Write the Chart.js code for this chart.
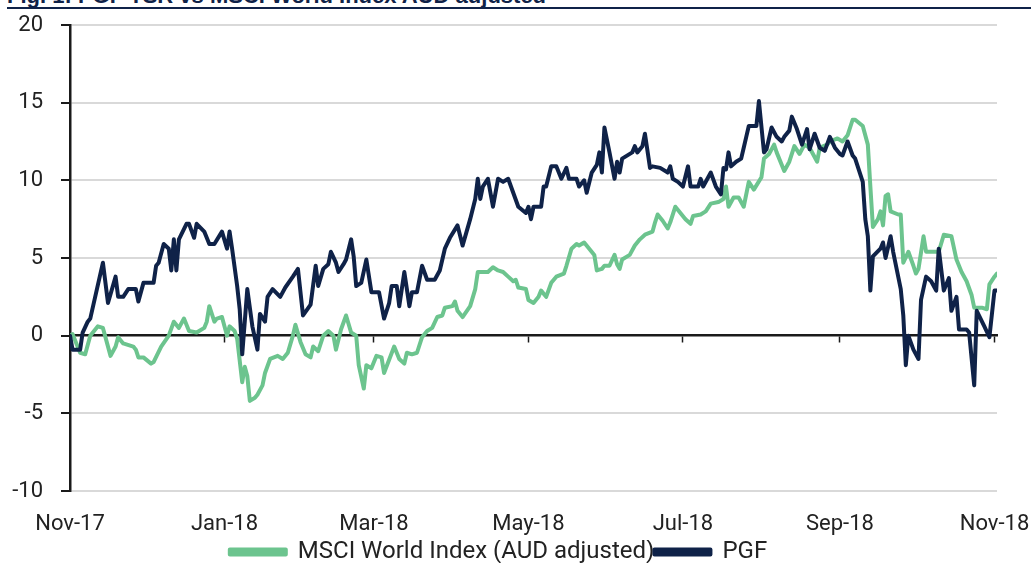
<!DOCTYPE html>
<html>
<head>
<meta charset="utf-8">
<script src="https://cdn.jsdelivr.net/npm/chart.js@4/dist/chart.umd.min.js"></script>
<style>
  html, body { margin: 0; padding: 0; background: #fff; }
  body { width: 1031px; height: 563px; position: relative; overflow: hidden; }
  #title { position: absolute; left: 7px; top: -16px; font: bold 22px "Liberation Sans", Arial, sans-serif; color: #0f2248; white-space: nowrap; line-height: 23px; }
  #rule { position: absolute; left: 7px; right: 0; top: 7px; height: 2px; background: #0f2248; }
  #wrap { position: absolute; left: 0; top: 0; width: 1031px; height: 563px; }
</style>
</head>
<body>
<div id="title">Fig. 1: PGF TSR vs MSCI World Index AUD adjusted</div>
<div id="rule"></div>
<div id="wrap"><canvas id="chart"></canvas></div>
<script>
"use strict";

// days counted from 1 Nov 2017
const tickDays = [0, 61, 120, 181, 242, 304, 365];
const tickLabels = ["Nov-17", "Jan-18", "Mar-18", "May-18", "Jul-18", "Sep-18", "Nov-18"];

const pgfDays = [
  0, 1, 4, 5, 7, 8, 13, 15, 18, 19,
  21, 23, 26, 27, 29, 33, 34, 35, 37, 39,
  40, 41, 42, 43, 46, 47, 49, 50, 53, 55,
  57, 60, 62, 63, 64, 66, 67, 68, 70, 72,
  74, 75, 77, 78, 80, 83, 85, 88, 90, 92,
  95, 97, 98, 100, 102, 103, 105, 106, 108, 109,
  111, 112, 113, 115, 117, 119, 122, 124, 126, 127,
  129, 130, 132, 134, 135, 137, 139, 141, 144, 146,
  148, 150, 153, 155, 158, 160, 161, 162, 163, 165,
  167, 169, 171, 173, 175, 177, 180, 181, 182, 183,
  186, 187, 188, 190, 192, 194, 196, 197, 200, 201,
  203, 204, 206, 208, 209, 210, 211, 213, 215, 216,
  217, 218, 222, 223, 224, 226, 227, 229, 230, 233,
  236, 237, 238, 240, 242, 244, 245, 248, 249, 250,
  253, 255, 257, 258, 259, 260, 261, 263, 265, 266,
  267, 268, 271, 272, 274, 275, 277, 279, 281, 282,
  284, 285, 287, 289, 291, 292, 294, 296, 298, 300,
  302, 304, 305, 307, 309, 310, 313, 314, 315, 316,
  317, 320, 321, 322, 324, 325, 328, 329, 330, 331,
  333, 335, 336, 338, 340, 342, 343, 345, 347, 348,
  350, 351, 354, 355, 357, 358, 361, 363, 365, 366
];
const pgfValues = [
  0.0, -0.9, -0.9, 0.2, 0.9, 1.1, 4.7, 2.1, 3.8, 2.5,
  2.5, 3.0, 3.0, 2.2, 3.4, 3.4, 4.5, 4.7, 5.9, 5.6,
  4.2, 6.2, 4.2, 6.2, 7.2, 7.2, 6.3, 7.2, 6.7, 5.9,
  5.9, 6.7, 5.6, 6.7, 5.6, 3.2, 1.7, -1.2, 3.0, 0.6,
  -0.9, 1.4, 0.9, 2.5, 3.0, 2.5, 3.1, 3.8, 4.3, 1.3,
  2.0, 4.5, 3.2, 4.3, 4.6, 5.4, 4.7, 4.1, 4.6, 4.9,
  6.2, 5.1, 3.2, 3.4, 4.9, 2.8, 2.8, 1.1, 2.1, 3.2,
  3.2, 1.9, 4.1, 1.9, 2.8, 2.8, 4.5, 3.6, 3.6, 4.2,
  5.6, 6.3, 7.1, 5.8, 7.5, 8.8, 10.1, 8.8, 9.6, 10.1,
  8.3, 10.1, 9.9, 10.1, 9.2, 8.3, 7.9, 8.3, 7.5, 8.3,
  8.3, 9.6, 9.6, 10.9, 10.9, 10.1, 10.8, 10.1, 10.1, 9.6,
  10.0, 9.2, 10.5, 11.0, 11.8, 10.5, 13.4, 11.8, 10.1, 11.2,
  10.5, 11.4, 11.8, 12.2, 11.8, 12.2, 13.0, 10.8, 10.9, 10.8,
  10.5, 10.9, 10.1, 9.9, 9.6, 10.9, 9.6, 9.6, 10.1, 9.6,
  10.5, 9.6, 9.1, 10.8, 10.7, 11.8, 10.9, 11.2, 11.4, 12.1,
  12.8, 13.5, 13.5, 15.1, 11.8, 12.0, 13.4, 12.8, 12.5, 12.8,
  13.2, 14.1, 13.3, 12.3, 13.3, 12.0, 13.0, 12.1, 11.9, 12.8,
  12.1, 11.7, 11.6, 12.5, 11.6, 11.4, 9.9, 7.5, 6.4, 2.9,
  5.1, 5.6, 6.0, 5.0, 6.4, 5.4, 3.0, 1.3, -1.9, 0.0,
  -0.9, -1.5, 2.3, 3.8, 3.5, 2.9, 5.6, 2.9, 3.7, 1.6,
  2.5, 0.4, 0.4, 0.2, -3.2, 1.6, 0.6, -0.1, 2.9, 2.9
];

const msciDays = [
  0, 1, 4, 6, 8, 11, 13, 16, 18, 19,
  21, 25, 26, 27, 29, 32, 33, 36, 39, 41,
  43, 45, 47, 50, 53, 54, 55, 57, 58, 60,
  62, 63, 65, 66, 68, 69, 70, 71, 73, 74,
  76, 77, 79, 82, 84, 86, 88, 89, 91, 93,
  95, 96, 98, 100, 102, 104, 105, 107, 109, 111,
  113, 114, 116, 117, 119, 121, 123, 124, 128, 130,
  132, 133, 135, 137, 139, 141, 143, 145, 147, 148,
  151, 152, 153, 155, 158, 160, 161, 165, 167, 169,
  171, 173, 175, 176, 177, 180, 181, 183, 185, 186,
  188, 190, 192, 195, 196, 198, 200, 201, 203, 205,
  207, 208, 210, 211, 213, 215, 216, 217, 218, 221,
  223, 225, 227, 230, 231, 232, 234, 236, 237, 239,
  241, 243, 245, 246, 249, 251, 253, 256, 258, 259,
  260, 262, 264, 266, 268, 270, 273, 274, 276, 278,
  279, 282, 284, 286, 288, 290, 292, 295, 296, 299,
  300, 303, 305, 307, 309, 310, 313, 315, 316, 317,
  319, 320, 321, 322, 323, 324, 327, 328, 329, 331,
  333, 334, 335, 337, 338, 343, 345, 348, 350, 352,
  354, 356, 357, 360, 362, 363, 365, 366
];
const msciValues = [
  0.0, 0.1, -1.1, -1.2, 0.0, 0.6, 0.5, -1.3, -0.7, -0.1,
  -0.5, -0.7, -0.9, -1.4, -1.4, -1.8, -1.7, -0.7, 0.0, 0.9,
  0.5, 1.1, 0.3, 0.2, 0.5, 0.9, 1.9, 0.9, 1.1, 1.2,
  0.0, 0.6, 0.3, -0.2, -3.0, -2.0, -2.6, -4.2, -4.0, -3.8,
  -3.2, -2.4, -1.5, -1.3, -1.5, -1.1, 0.0, 0.7, -0.4, -1.2,
  -1.4, -0.7, -1.0, 0.0, 0.3, 0.0, -0.9, 0.4, 1.3, 0.2,
  0.0, -1.9, -3.4, -1.9, -2.1, -1.3, -1.4, -2.4, -0.7, -1.5,
  -1.8, -1.1, -1.2, -1.1, -0.1, 0.3, 0.5, 1.2, 1.3, 1.8,
  1.9, 2.2, 1.6, 1.2, 1.9, 3.0, 4.1, 4.1, 4.4, 4.2,
  4.1, 3.8, 3.5, 3.6, 3.1, 3.0, 2.3, 2.1, 2.5, 2.9,
  2.5, 3.4, 3.8, 4.0, 4.5, 5.6, 5.9, 5.8, 6.0, 5.6,
  5.2, 4.2, 4.3, 4.5, 4.5, 5.2, 4.6, 4.3, 4.9, 5.2,
  5.8, 6.2, 6.5, 6.7, 7.3, 7.8, 7.4, 6.9, 7.3, 8.3,
  7.9, 7.5, 7.2, 7.7, 7.8, 8.0, 8.5, 8.6, 8.8, 9.6,
  8.3, 8.9, 8.9, 8.3, 9.9, 9.4, 10.2, 11.4, 11.7, 12.3,
  11.8, 10.6, 11.2, 12.2, 11.7, 12.3, 12.1, 11.2, 12.1, 12.3,
  12.5, 12.7, 12.5, 12.9, 13.9, 13.9, 13.5, 12.3, 9.6, 7.0,
  7.5, 8.0, 7.1, 9.0, 9.1, 8.0, 7.8, 7.8, 4.7, 5.4,
  4.5, 4.0, 4.3, 6.4, 5.4, 5.4, 6.5, 6.4, 4.9, 4.1,
  3.5, 2.6, 1.8, 1.8, 1.7, 3.3, 3.8, 4.0
];

const navy = "#0f2248";
const green = "#6cc48e";
const textColor = "#222222";

Chart.defaults.font.family = "Roboto, 'Noto Sans', sans-serif";
Chart.defaults.font.size = 22;
Chart.defaults.color = textColor;

function toPoints(days, values) {
  return days.map((d, i) => ({ x: d, y: values[i] }));
}

function setMonthTicks(axis) {
  axis.ticks = tickDays.map(v => ({ value: v }));
}

// keep the plot edges fixed, labels may hang over them
function noSidePadding(scale) {
  scale.paddingLeft = 0;
  scale.paddingRight = 0;
}

// the legend only needs one short row
const legendHeight = {
  id: "legendHeight",
  afterInit(chart) {
    const fit = chart.legend.fit;
    chart.legend.fit = function () {
      fit.call(this);
      this.height = 23;
    };
  }
};

const ctx = document.getElementById("chart").getContext("2d");
const chart = new Chart(ctx, {
  type: "line",
  data: {
    datasets: [
      {
        label: "MSCI World Index (AUD adjusted)",
        data: toPoints(msciDays, msciValues),
        borderColor: green,
        backgroundColor: green,
        borderWidth: 4,
        order: 1
      },
      {
        label: "PGF",
        data: toPoints(pgfDays, pgfValues),
        borderColor: navy,
        backgroundColor: navy,
        borderWidth: 4,
        order: 0
      }
    ]
  },
  plugins: [legendHeight],
  options: {
    responsive: true,
    maintainAspectRatio: false,
    animation: false,
    elements: {
      point: { radius: 0 },
      line: { tension: 0, borderJoinStyle: "round", borderCapStyle: "round" }
    },
    layout: { padding: { top: 25, right: 34, left: 0, bottom: 0 } },
    scales: {
      x: {
        type: "linear",
        position: { y: 0 },
        min: 0,
        max: 366,
        afterBuildTicks: setMonthTicks,
        afterFit: scale => {
          noSidePadding(scale);
          scale.height = 0;
        },
        ticks: { display: false },
        grid: { drawOnChartArea: false, drawTicks: true, tickLength: 6, tickWidth: 1.5, tickColor: "#1a1a1a" },
        border: { display: true, color: "#1a1a1a", width: 2.5 }
      },
      x2: {
        type: "linear",
        axis: "x",
        position: "bottom",
        min: 0,
        max: 366,
        afterBuildTicks: setMonthTicks,
        afterFit: scale => {
          noSidePadding(scale);
          scale.height = 49;
        },
        ticks: {
          padding: 20,
          maxRotation: 0,
          autoSkip: false,
          callback: v => tickLabels[tickDays.indexOf(v)]
        },
        grid: { display: false, drawTicks: false },
        border: { display: false }
      },
      y: {
        min: -10,
        max: 20,
        afterFit: scale => {
          scale.width = 70;
          scale.paddingTop = 0;
          scale.paddingBottom = 0;
        },
        ticks: { stepSize: 5, padding: 18 },
        grid: {
          color: c => (c.tick && c.tick.value === 0 ? "rgba(0,0,0,0)" : "#d9d9d9"),
          lineWidth: 2,
          drawTicks: true,
          tickLength: 9,
          tickWidth: 2,
          tickColor: "#1a1a1a"
        },
        border: { display: true, color: "#1a1a1a", width: 2.5 }
      }
    },
    plugins: {
      legend: {
        position: "bottom",
        labels: {
          boxWidth: 56,
          boxHeight: 5,
          padding: 0,
          font: { size: 24 },
          sort: (a, b) => a.datasetIndex - b.datasetIndex
        }
      },
      tooltip: { enabled: false }
    }
  }
});
</script>
</body>
</html>
